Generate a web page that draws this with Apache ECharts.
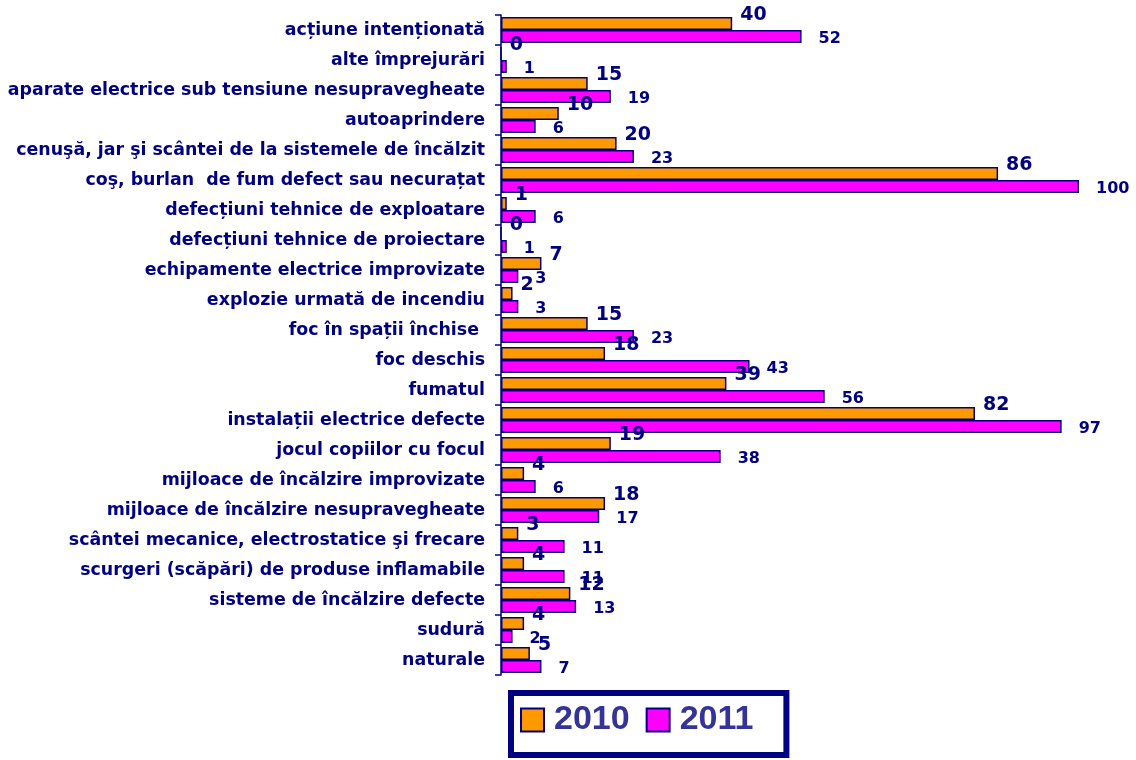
<!DOCTYPE html>
<html>
<head>
<meta charset="utf-8">
<script src="https://cdn.jsdelivr.net/npm/echarts@6/dist/echarts.min.js"></script>
<style>
  html, body { margin: 0; padding: 0; background: #fff; }
  #main { width: 1136px; height: 760px; }
</style>
</head>
<body>
<div id="main"></div>
<script>
var categories = [
  "acțiune intenționată",
  "alte împrejurări",
  "aparate electrice sub tensiune nesupravegheate",
  "autoaprindere",
  "cenuşă, jar şi scântei de la sistemele de încălzit",
  "coş, burlan  de fum defect sau necurațat",
  "defecțiuni tehnice de exploatare",
  "defecțiuni tehnice de proiectare",
  "echipamente electrice improvizate",
  "explozie urmată de incendiu",
  "foc în spații închise ",
  "foc deschis",
  "fumatul",
  "instalații electrice defecte",
  "jocul copiilor cu focul",
  "mijloace de încălzire improvizate",
  "mijloace de încălzire nesupravegheate",
  "scântei mecanice, electrostatice şi frecare",
  "scurgeri (scăpări) de produse inflamabile",
  "sisteme de încălzire defecte",
  "sudură",
  "naturale"
];
var values2010 = [40, 0, 15, 10, 20, 86, 1, 0, 7, 2, 15, 18, 39, 82, 19, 4, 18, 3, 4, 12, 4, 5];
var values2011 = [52, 1, 19, 6, 23, 100, 6, 1, 3, 3, 23, 43, 56, 97, 38, 6, 17, 11, 11, 13, 2, 7];

var navy = "#000080";
var verdanaLike = "DejaVu Sans, Verdana, sans-serif";
var chart = echarts.init(document.getElementById("main"));

var option = {
  animation: false,
  textStyle: { fontFamily: verdanaLike },
  grid: { left: 501, right: 57, top: 15, bottom: 85 },
  legend: {
    data: ["2010", "2011"],
    left: 511,
    top: 693,
    orient: "horizontal",
    backgroundColor: "#fff",
    borderColor: navy,
    borderWidth: 6,
    borderRadius: 0,
    padding: [10, 33, 18, 9],
    itemGap: 16,
    itemWidth: 23,
    itemHeight: 23,
    icon: "rect",
    textStyle: {
      color: "#333399",
      fontSize: 34,
      fontWeight: "bold",
      fontFamily: "Liberation Sans, Arial, sans-serif",
      padding: [0, 0, 0, 5]
    }
  },
  xAxis: {
    type: "value",
    min: 0,
    max: 100,
    show: false
  },
  yAxis: {
    type: "category",
    data: categories,
    inverse: true,
    axisLine: { show: true, lineStyle: { color: navy, width: 1.5 } },
    axisTick: { show: true, length: 6, lineStyle: { color: navy, width: 1.5 } },
    axisLabel: {
      color: navy,
      fontSize: 17.4,
      fontWeight: "bold",
      fontFamily: verdanaLike,
      margin: 16
    }
  },
  series: [
    {
      name: "2010",
      type: "bar",
      data: values2010,
      barWidth: 13,
      barGap: "0%",
      itemStyle: { color: "#FF9900", borderColor: navy, borderWidth: 1.5 },
      label: {
        show: true,
        position: "right",
        offset: [3, -8],
        color: navy,
        fontSize: 19,
        fontWeight: "bold"
      }
    },
    {
      name: "2011",
      type: "bar",
      data: values2011,
      barWidth: 13,
      itemStyle: { color: "#FF00FF", borderColor: navy, borderWidth: 1.5 },
      label: {
        show: true,
        position: "right",
        offset: [12, 2],
        color: navy,
        fontSize: 16,
        fontWeight: "bold"
      }
    }
  ]
};

chart.setOption(option);
</script>
</body>
</html>
